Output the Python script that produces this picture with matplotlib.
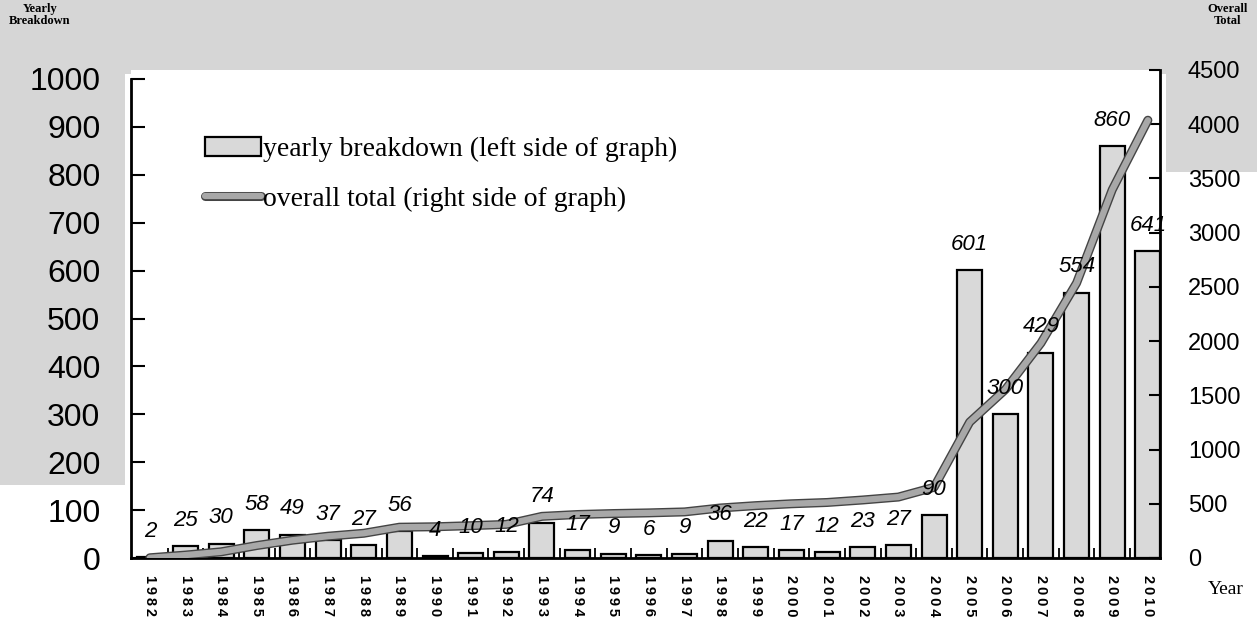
#!/usr/bin/env python3
import matplotlib
matplotlib.use("Agg")
import matplotlib.pyplot as plt
import matplotlib.patheffects as pe
from matplotlib.patches import Patch, Rectangle
from matplotlib.lines import Line2D

# --- data ---
years = list(range(1982, 2011))
yearly = [2, 25, 30, 58, 49, 37, 27, 56, 4, 10, 12, 74, 17, 9, 6, 9,
          36, 22, 17, 12, 23, 27, 90, 601, 300, 429, 554, 860, 641]
overall = [2, 27, 57, 115, 164, 201, 228, 284, 288, 298, 310, 384, 401, 410,
           416, 425, 461, 483, 500, 512, 535, 562, 652, 1253, 1553, 1982,
           2536, 3396, 4037]
left_ticks = [0, 100, 200, 300, 400, 500, 600, 700, 800, 900, 1000]
right_ticks = [0, 500, 1000, 1500, 2000, 2500, 3000, 3500, 4000, 4500]

W, H = 1257, 621
SANS = "Liberation Sans"
SERIF = "Liberation Serif"
BAR_FC = "#d9d9d9"
LINE_C = "#a8a8a8"

fig = plt.figure(figsize=(W / 100, H / 100), dpi=100)
fig.patch.set_facecolor("white")

# halftone-ish gray areas of the scan
def px_rect(x0, y0, x1, y1):
    fig.patches.append(Rectangle((x0 / W, 1 - y1 / H), (x1 - x0) / W, (y1 - y0) / H,
                                 transform=fig.transFigure, facecolor="#d6d6d6",
                                 edgecolor="none", zorder=-10))

px_rect(0, 0, W, 74)
px_rect(0, 74, 125, 485)
px_rect(1166, 74, W, 172)

ax = fig.add_axes([131 / W, 1 - 558 / H, (1160 - 131) / W, (558 - 70) / H])
ax.set_facecolor("white")
x = list(range(len(years)))

ax.bar(x, yearly, width=0.7, facecolor=BAR_FC, edgecolor="black", linewidth=1.6, zorder=2)
ax.set_xlim(-0.53, 28.34)
ax.set_ylim(0, 1000 * (558 - 70) / (558 - 79))
ax.spines["top"].set_visible(False)
ax.spines["right"].set_visible(False)
ax.spines["left"].set_bounds(0, 1000)
for s in ("left", "bottom"):
    ax.spines[s].set_linewidth(2)

ax.set_yticks(left_ticks)
ax.set_yticklabels([str(t) for t in left_ticks], fontfamily=SANS, fontsize=23)
ax.tick_params(axis="y", direction="in", length=10, width=1.5, pad=22)

ax.set_xticks(x)
ax.set_xticklabels(["\u2009".join(str(y)) for y in years], rotation=-90,
                   fontfamily=SANS, fontsize=10.5, fontweight="bold")
ax.tick_params(axis="x", which="major", length=0, pad=12)
ax.set_xticks([i + 0.5 for i in x[:-1]], minor=True)
ax.tick_params(axis="x", which="minor", direction="in", length=7, width=1.3)

ax2 = ax.twinx()
ax2.set_ylim(0, 4500)
ax2.plot(x, overall, color=LINE_C, linewidth=4.5, solid_capstyle="round", zorder=3,
         path_effects=[pe.Stroke(linewidth=6.5, foreground="#444444"), pe.Normal()])
ax2.spines["top"].set_visible(False)
ax2.spines["left"].set_visible(False)
ax2.spines["bottom"].set_visible(False)
ax2.spines["right"].set_linewidth(2)
ax2.set_yticks(right_ticks)
ax2.set_yticklabels([str(t) for t in right_ticks], fontfamily=SANS, fontsize=17)
ax2.tick_params(axis="y", direction="in", length=8, width=1.5, pad=20)

# value labels drawn above the line, positioned from the bar data
for xi, v in zip(x, yearly):
    ax2.annotate(str(v), (xi, v), xycoords=ax.transData, xytext=(0, 11),
                 textcoords="offset points", ha="center", va="bottom",
                 fontfamily=SANS, fontstyle="italic", fontsize=16, zorder=5)

handles = [
    Patch(facecolor=BAR_FC, edgecolor="black", linewidth=1.6),
    Line2D([], [], color=LINE_C, linewidth=4.5, solid_capstyle="round",
           path_effects=[pe.Stroke(linewidth=6.5, foreground="#444444"), pe.Normal()]),
]
labels = ["yearly breakdown (left side of graph)", "overall total (right side of graph)"]
ax2.legend(handles, labels, loc="upper left", bbox_to_anchor=(205 / W, 1 - 137 / H),
           bbox_transform=fig.transFigure, frameon=False, borderpad=0,
           borderaxespad=0, handlelength=2.0, handletextpad=0.1, labelspacing=0.85,
           prop={"family": SERIF, "size": 20})

fig.text(40 / W, 1 - 3 / H, "Yearly\nBreakdown", ha="center", va="top",
         fontfamily=SERIF, fontweight="bold", fontsize=9, linespacing=1.0)
fig.text(1228 / W, 1 - 3 / H, "Overall\nTotal", ha="center", va="top",
         fontfamily=SERIF, fontweight="bold", fontsize=9, linespacing=1.0)
fig.text(1226 / W, 1 - 590 / H, "Year", ha="center", va="center",
         fontfamily=SERIF, fontsize=14)

fig.savefig("out.png", dpi=100)
